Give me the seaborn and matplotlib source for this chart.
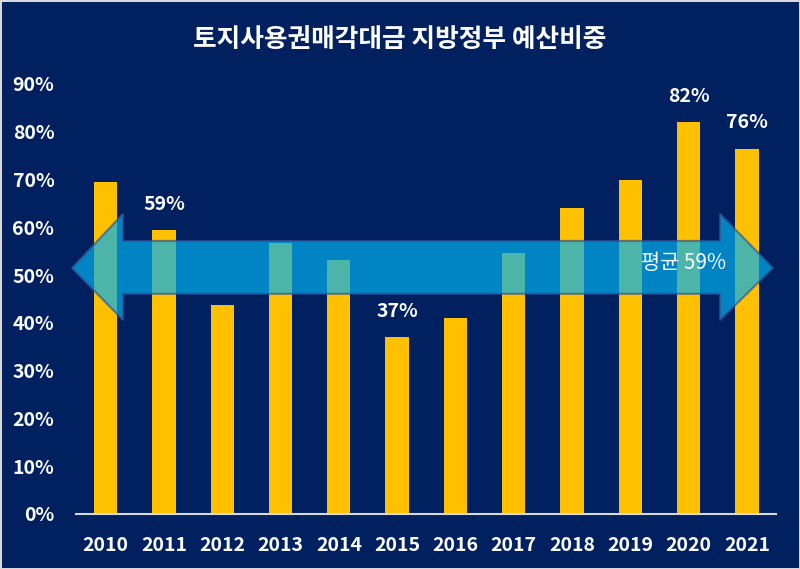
import matplotlib
matplotlib.use("Agg")
import matplotlib.pyplot as plt
from matplotlib.patches import Polygon
import numpy as np
import pandas as pd
import seaborn as sns

# chart data
years = ["2010", "2011", "2012", "2013", "2014", "2015",
         "2016", "2017", "2018", "2019", "2020", "2021"]
share = [0.695, 0.594, 0.437, 0.567, 0.531, 0.37,
         0.41, 0.546, 0.64, 0.699, 0.82, 0.764]
labelled = {"2011": "59%", "2015": "37%", "2020": "82%", "2021": "76%"}
avg_label = "평균 59%"
title = "토지사용권매각대금 지방정부 예산비중"

NAVY = "#002060"
GOLD = "#FFC000"

plt.rcParams['font.family'] = ['Noto Sans CJK KR', 'DejaVu Sans']

df = pd.DataFrame({"year": years, "share": share})

fig = plt.figure(figsize=(8, 5.69), dpi=100, facecolor=NAVY,
                 edgecolor="#D9D9D9", linewidth=2)
ax = fig.add_axes([0.0956, 0.0967, 0.8744, 0.7557])
ax.set_facecolor(NAVY)

sns.barplot(data=df, x="year", y="share", color=GOLD, width=0.4,
            saturation=1, ax=ax)

ax.set_ylim(0, 0.9)
ax.set_xlim(-0.5, len(years) - 0.5)
ax.set_yticks(np.arange(0, 0.91, 0.1))
ax.set_yticklabels([f"{int(round(t * 100))}%" for t in np.arange(0, 0.91, 0.1)])
ax.tick_params(axis="both", length=0, colors="white")
ax.tick_params(axis="y", pad=16, labelsize=14)
ax.tick_params(axis="x", pad=16, labelsize=14)
for lab in ax.get_xticklabels() + ax.get_yticklabels():
    lab.set_fontweight("bold")
ax.set_xlabel("")
ax.set_ylabel("")
for s in ["top", "right", "left"]:
    ax.spines[s].set_visible(False)
ax.spines["bottom"].set_color("#D9D9D9")
ax.spines["bottom"].set_linewidth(1.5)

# value labels on selected bars
for i, yr in enumerate(years):
    if yr in labelled:
        ax.annotate(labelled[yr], (i, share[i]), xytext=(0, 12),
                    textcoords="offset points", ha="center", va="bottom",
                    color="white", fontsize=14, fontweight="bold")

# double-headed average arrow (axes coordinates)
tipL, baseL, baseR, tipR = -0.0064, 0.0665, 0.92, 0.9957
yc, hTop, hBot, sTop, sBot = 0.572, 0.698, 0.451, 0.635, 0.512
pts = [(tipL, yc), (baseL, hTop), (baseL, sTop), (baseR, sTop), (baseR, hTop),
       (tipR, yc), (baseR, hBot), (baseR, sBot), (baseL, sBot), (baseL, hBot)]
arrow = Polygon(pts, closed=True, transform=ax.transAxes, facecolor="#00B0F0",
                alpha=0.7, edgecolor="#2F5597", linewidth=1.5, clip_on=False,
                zorder=5)
ax.add_patch(arrow)
ax.text(0.807, 0.584, avg_label, transform=ax.transAxes, ha="left",
        va="center", color="white", fontsize=15, zorder=6)

fig.text(0.5, 0.93, title, ha="center", va="center", color="white",
         fontsize=18.5, fontweight="bold")

fig.savefig("out.png", dpi=100, facecolor=NAVY, edgecolor="#D9D9D9")
